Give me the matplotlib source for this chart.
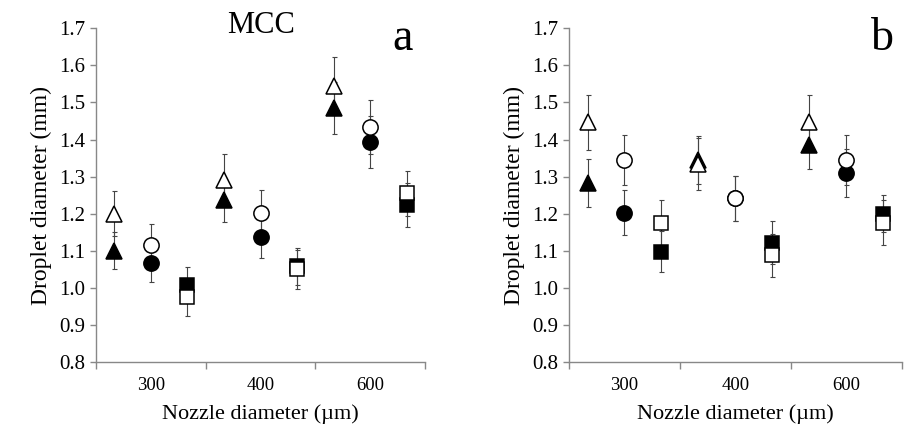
import matplotlib
matplotlib.use('Agg')
import matplotlib.pyplot as plt
import numpy as np

plt.rcParams['font.family'] = ['Liberation Serif', 'DejaVu Serif']

# nozzle diameter groups (um)
groups = ['300', '400', '600']

# panel a (MCC)
a_open_tri = [1.200, 1.292, 1.545]
a_open_tri_err = [0.060, 0.068, 0.078]
a_fill_tri = [1.100, 1.237, 1.486]
a_fill_tri_err = [0.050, 0.060, 0.070]
a_open_circ = [1.115, 1.203, 1.434]
a_open_circ_err = [0.057, 0.060, 0.074]
a_fill_circ = [1.068, 1.136, 1.394]
a_fill_circ_err = [0.052, 0.055, 0.070]
a_open_sq = [0.975, 1.050, 1.255]
a_open_sq_err = [0.050, 0.052, 0.060]
a_fill_sq = [1.009, 1.058, 1.223]
a_fill_sq_err = [0.048, 0.050, 0.060]

# panel b
b_open_tri = [1.446, 1.335, 1.446]
b_open_tri_err = [0.074, 0.070, 0.074]
b_fill_tri = [1.283, 1.345, 1.385]
b_fill_tri_err = [0.065, 0.065, 0.065]
b_open_circ = [1.345, 1.241, 1.345]
b_open_circ_err = [0.067, 0.062, 0.067]
b_fill_circ = [1.203, 1.241, 1.309]
b_fill_circ_err = [0.060, 0.062, 0.065]
b_open_sq = [1.176, 1.088, 1.176]
b_open_sq_err = [0.060, 0.058, 0.060]
b_fill_sq = [1.097, 1.121, 1.200]
b_fill_sq_err = [0.055, 0.058, 0.050]

fig = plt.figure(figsize=(9.09, 4.33), dpi=100)
ax_a = fig.add_axes([0.1056, 0.164, 0.362, 0.7706])
ax_b = fig.add_axes([0.626, 0.164, 0.366, 0.7706])

x = np.arange(len(groups))
off = 1 / 3.0


def series(ax, xs, ys, err, marker, filled, z):
    # error bars stay underneath every marker
    ax.errorbar(xs, ys, yerr=err, fmt='none', ecolor='#444444',
                elinewidth=0.8, capsize=1.8, capthick=0.8, zorder=1)
    ax.plot(xs, ys, linestyle='none', marker=marker, markersize=11 if marker != 's' else 10,
            markerfacecolor='black' if filled else 'white',
            markeredgecolor='black', markeredgewidth=1.1, zorder=z)


def panel(ax, d):
    (ot, ote, ft, fte, oc, oce, fc, fce, os_, ose, fs, fse) = d
    series(ax, x - off, ft, fte, '^', True, 2)
    series(ax, x - off, ot, ote, '^', False, 3)
    series(ax, x, fc, fce, 'o', True, 2)
    series(ax, x, oc, oce, 'o', False, 3)
    series(ax, x + off, fs, fse, 's', True, 2)
    series(ax, x + off, os_, ose, 's', False, 3)

    ax.set_xlim(-0.5, 2.5)
    ax.set_ylim(0.8, 1.7)
    ax.set_yticks(np.arange(0.8, 1.71, 0.1))
    ax.set_yticklabels(['%.1f' % v for v in np.arange(0.8, 1.71, 0.1)], fontsize=15)
    ax.set_xticks([-0.5, 0.5, 1.5, 2.5])
    ax.set_xticklabels([])
    ax.set_xticks(x, minor=True)
    ax.set_xticklabels(groups, minor=True, fontsize=13.5)
    ax.tick_params(axis='x', which='major', direction='out', length=5, width=1, color='#888888')
    ax.tick_params(axis='x', which='minor', length=0, pad=11)
    ax.tick_params(axis='y', direction='out', length=4, width=1, color='#888888', pad=4)
    for s in ['top', 'right']:
        ax.spines[s].set_visible(False)
    for s in ['left', 'bottom']:
        ax.spines[s].set_color('#888888')
        ax.spines[s].set_linewidth(1)
    ax.set_xlabel('Nozzle diameter (\u00b5m)', fontsize=16, labelpad=7)
    ax.set_ylabel('Droplet diameter (mm)', fontsize=17, labelpad=5)


panel(ax_a, (a_open_tri, a_open_tri_err, a_fill_tri, a_fill_tri_err,
             a_open_circ, a_open_circ_err, a_fill_circ, a_fill_circ_err,
             a_open_sq, a_open_sq_err, a_fill_sq, a_fill_sq_err))
panel(ax_b, (b_open_tri, b_open_tri_err, b_fill_tri, b_fill_tri_err,
             b_open_circ, b_open_circ_err, b_fill_circ, b_fill_circ_err,
             b_open_sq, b_open_sq_err, b_fill_sq, b_fill_sq_err))

fig.text(0.287, 0.924, 'MCC', fontsize=22, ha='center', va='baseline')
fig.text(0.443, 0.8845, 'a', fontsize=33, ha='center', va='baseline')
fig.text(0.971, 0.8845, 'b', fontsize=33, ha='center', va='baseline')

fig.savefig('out.png', dpi=100)
